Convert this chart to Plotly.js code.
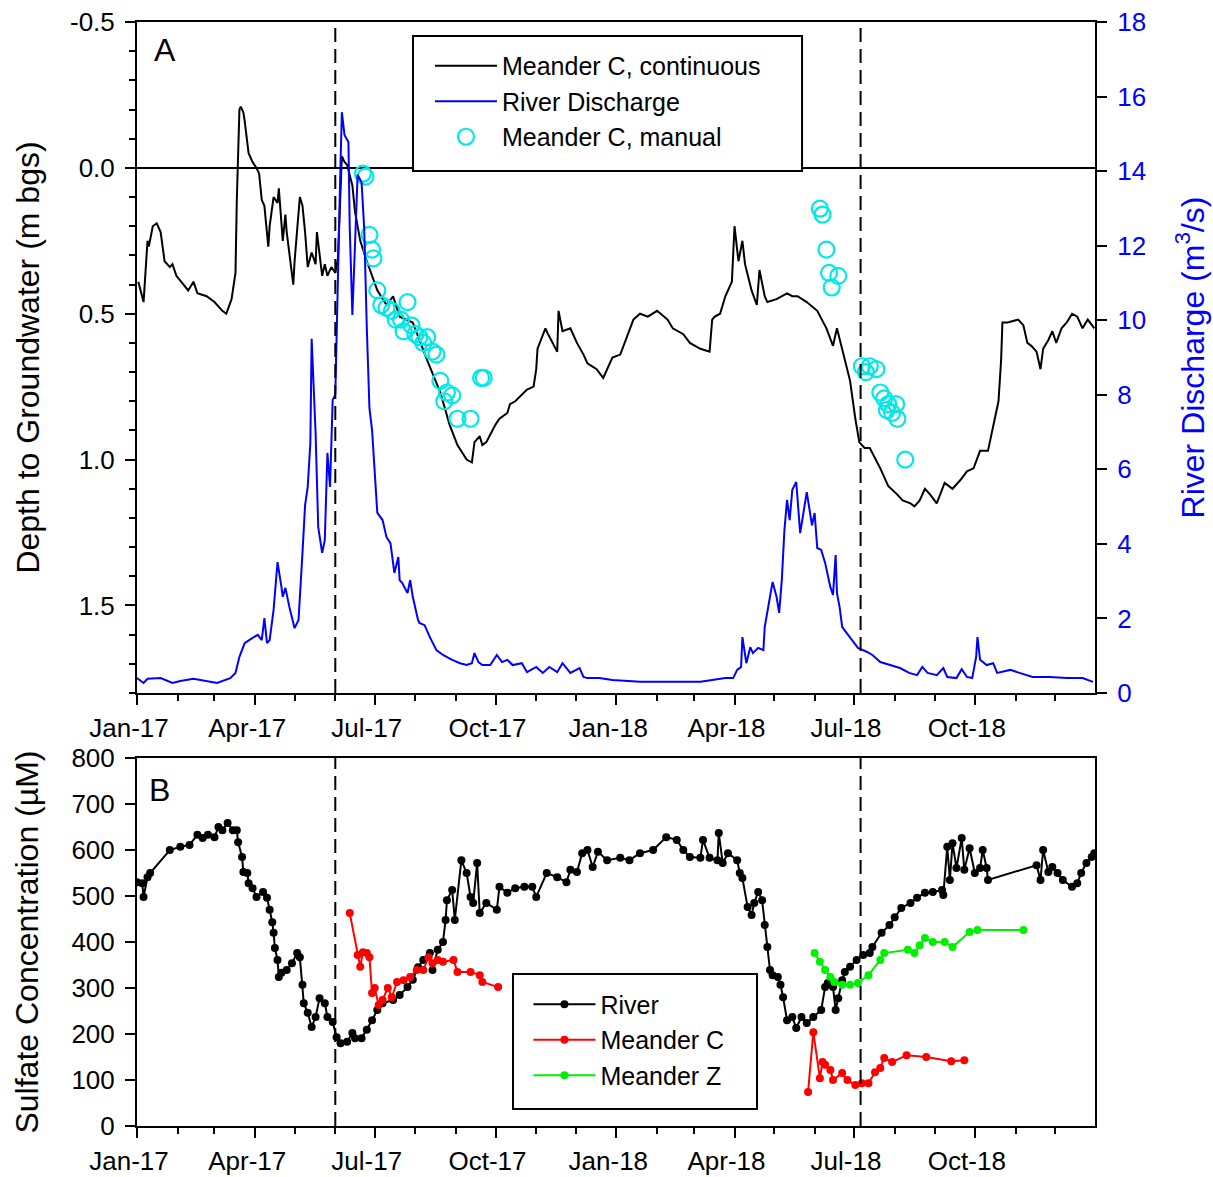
<!DOCTYPE html>
<html>
<head>
<meta charset="utf-8">
<script src="https://cdn.plot.ly/plotly-3.0.1.min.js"></script>
<style>
  html, body { margin: 0; padding: 0; background: #fff; }
  #chart { width: 1213px; height: 1177px; }
</style>
</head>
<body>
<div id="chart"></div>
<script>
// ---- Panel A: depth to groundwater, Meander C continuous logger (m below ground surface)
const gwDates = ['2017-01-02','2017-01-06','2017-01-09','2017-01-10','2017-01-13','2017-01-16','2017-01-19','2017-01-22','2017-01-26','2017-01-28','2017-01-31','2017-02-09','2017-02-13','2017-02-16','2017-02-23','2017-03-01','2017-03-07','2017-03-10','2017-03-14','2017-03-17','2017-03-18','2017-03-20','2017-03-21','2017-03-23','2017-03-24','2017-03-27','2017-03-30','2017-04-02','2017-04-04','2017-04-06','2017-04-08','2017-04-11','2017-04-12','2017-04-15','2017-04-18','2017-04-19','2017-04-22','2017-04-24','2017-04-25','2017-04-28','2017-04-30','2017-05-01','2017-05-04','2017-05-05','2017-05-07','2017-05-09','2017-05-11','2017-05-14','2017-05-17','2017-05-18','2017-05-22','2017-05-24','2017-05-26','2017-05-29','2017-06-01','2017-06-03','2017-06-06','2017-06-08','2017-06-10','2017-06-14','2017-06-16','2017-06-20','2017-06-25','2017-07-03','2017-07-10','2017-07-15','2017-07-20','2017-07-30','2017-08-10','2017-08-20','2017-08-27','2017-09-02','2017-09-09','2017-09-13','2017-09-15','2017-09-19','2017-09-21','2017-09-24','2017-10-01','2017-10-04','2017-10-10','2017-10-12','2017-10-16','2017-10-25','2017-10-30','2017-11-01','2017-11-02','2017-11-08','2017-11-10','2017-11-17','2017-11-18','2017-11-21','2017-11-27','2017-12-02','2017-12-07','2017-12-10','2017-12-17','2017-12-22','2017-12-29','2018-01-04','2018-01-14','2018-01-19','2018-01-25','2018-02-01','2018-02-09','2018-02-13','2018-02-21','2018-02-26','2018-03-06','2018-03-13','2018-03-15','2018-03-17','2018-03-21','2018-03-25','2018-03-30','2018-04-01','2018-04-04','2018-04-07','2018-04-09','2018-04-14','2018-04-18','2018-04-20','2018-04-24','2018-04-26','2018-05-03','2018-05-11','2018-05-15','2018-05-19','2018-05-26','2018-06-03','2018-06-10','2018-06-15','2018-06-18','2018-06-23','2018-06-28','2018-07-02','2018-07-05','2018-07-09','2018-07-13','2018-07-21','2018-07-27','2018-08-03','2018-08-07','2018-08-13','2018-08-16','2018-08-20','2018-08-24','2018-08-28','2018-09-02','2018-09-08','2018-09-14','2018-09-20','2018-09-25','2018-09-30','2018-10-05','2018-10-11','2018-10-15','2018-10-19','2018-10-21','2018-10-22','2018-10-26','2018-11-03','2018-11-07','2018-11-10','2018-11-13','2018-11-17','2018-11-20','2018-11-22','2018-11-26','2018-11-29','2018-12-02','2018-12-06','2018-12-10','2018-12-14','2018-12-18','2018-12-22','2018-12-26','2018-12-31'];
const gwDepth = [0.39,0.46,0.25,0.27,0.20,0.19,0.22,0.32,0.34,0.33,0.37,0.42,0.39,0.43,0.44,0.46,0.49,0.50,0.45,0.36,0.11,-0.20,-0.21,-0.19,-0.16,-0.05,-0.02,0.00,0.02,0.11,0.13,0.27,0.20,0.10,0.12,0.07,0.25,0.16,0.22,0.34,0.40,0.32,0.13,0.10,0.13,0.22,0.34,0.29,0.33,0.22,0.37,0.33,0.37,0.34,0.36,0.31,-0.04,-0.02,-0.01,0.06,0.15,0.25,0.32,0.42,0.47,0.44,0.51,0.53,0.66,0.77,0.88,0.95,1.00,1.01,0.94,0.92,0.95,0.94,0.88,0.86,0.84,0.81,0.80,0.76,0.75,0.69,0.62,0.55,0.57,0.63,0.49,0.56,0.55,0.60,0.64,0.67,0.69,0.72,0.65,0.64,0.52,0.50,0.51,0.49,0.52,0.55,0.57,0.60,0.62,0.63,0.52,0.51,0.50,0.44,0.39,0.20,0.32,0.25,0.33,0.42,0.47,0.35,0.44,0.46,0.45,0.43,0.44,0.44,0.46,0.49,0.55,0.61,0.55,0.64,0.73,0.86,0.94,0.96,0.96,1.03,1.09,1.12,1.14,1.15,1.16,1.14,1.10,1.12,1.15,1.08,1.10,1.07,1.04,1.03,0.97,0.97,0.89,0.80,0.66,0.53,0.53,0.52,0.54,0.60,0.61,0.63,0.69,0.62,0.59,0.56,0.60,0.55,0.53,0.50,0.51,0.55,0.52,0.55];

// ---- Panel A: river discharge (m3/s)
const qDates = ['2017-01-01','2017-01-06','2017-01-09','2017-01-19','2017-01-28','2017-02-03','2017-02-13','2017-02-23','2017-03-03','2017-03-13','2017-03-17','2017-03-20','2017-03-24','2017-03-30','2017-04-03','2017-04-06','2017-04-08','2017-04-10','2017-04-12','2017-04-15','2017-04-18','2017-04-21','2017-04-22','2017-04-24','2017-04-27','2017-05-01','2017-05-04','2017-05-07','2017-05-09','2017-05-11','2017-05-13','2017-05-14','2017-05-17','2017-05-19','2017-05-22','2017-05-24','2017-05-26','2017-05-28','2017-05-29','2017-05-30','2017-06-01','2017-06-03','2017-06-05','2017-06-06','2017-06-08','2017-06-11','2017-06-12','2017-06-14','2017-06-17','2017-06-18','2017-06-21','2017-06-23','2017-06-25','2017-06-27','2017-06-29','2017-07-01','2017-07-03','2017-07-07','2017-07-10','2017-07-13','2017-07-16','2017-07-19','2017-07-20','2017-07-22','2017-07-26','2017-07-28','2017-07-30','2017-08-03','2017-08-04','2017-08-08','2017-08-12','2017-08-17','2017-08-22','2017-08-29','2017-09-04','2017-09-09','2017-09-13','2017-09-15','2017-09-18','2017-09-21','2017-09-27','2017-10-02','2017-10-06','2017-10-10','2017-10-14','2017-10-21','2017-10-25','2017-11-01','2017-11-06','2017-11-11','2017-11-17','2017-11-21','2017-11-27','2017-12-04','2017-12-07','2017-12-10','2017-12-19','2017-12-29','2018-01-09','2018-01-19','2018-02-08','2018-02-24','2018-03-06','2018-03-15','2018-03-25','2018-03-31','2018-04-03','2018-04-06','2018-04-07','2018-04-10','2018-04-13','2018-04-15','2018-04-19','2018-04-23','2018-04-24','2018-04-28','2018-04-30','2018-05-03','2018-05-05','2018-05-07','2018-05-09','2018-05-11','2018-05-13','2018-05-15','2018-05-18','2018-05-21','2018-05-23','2018-05-26','2018-05-30','2018-06-01','2018-06-03','2018-06-06','2018-06-09','2018-06-13','2018-06-15','2018-06-17','2018-06-18','2018-06-20','2018-06-22','2018-06-28','2018-07-04','2018-07-11','2018-07-15','2018-07-21','2018-07-28','2018-08-05','2018-08-12','2018-08-18','2018-08-22','2018-08-26','2018-09-02','2018-09-07','2018-09-10','2018-09-17','2018-09-21','2018-09-25','2018-09-29','2018-10-02','2018-10-03','2018-10-05','2018-10-10','2018-10-15','2018-10-18','2018-10-28','2018-11-04','2018-11-14','2018-11-27','2018-12-10','2018-12-22','2018-12-30'];
const qFlow = [0.40,0.27,0.38,0.40,0.27,0.32,0.38,0.32,0.27,0.40,0.54,0.97,1.34,1.48,1.56,1.42,2.01,1.34,1.42,2.23,3.51,2.84,2.58,2.82,2.31,1.74,1.96,3.76,5.04,5.53,6.71,9.50,6.97,4.45,3.76,4.10,6.44,5.53,6.60,7.86,8.00,11.56,14.24,15.58,14.97,14.78,12.47,10.14,12.90,13.90,13.70,12.47,9.79,7.64,7.05,5.90,4.83,4.64,4.18,4.02,3.22,3.65,3.03,2.95,2.68,3.03,2.58,1.96,1.88,1.82,1.50,1.15,1.02,0.89,0.80,0.75,0.80,1.07,0.83,0.75,0.75,1.02,0.83,0.89,0.75,0.80,0.56,0.70,0.54,0.70,0.56,0.80,0.54,0.67,0.43,0.40,0.40,0.35,0.32,0.30,0.30,0.30,0.30,0.35,0.40,0.40,0.62,0.70,1.50,0.80,1.23,1.07,1.21,1.15,1.77,2.58,2.98,2.58,2.15,3.03,4.37,5.18,4.64,5.45,5.66,4.29,4.72,5.39,4.50,4.83,3.89,3.84,3.49,2.84,2.63,3.70,2.68,2.31,1.77,1.48,1.21,1.10,1.02,0.83,0.75,0.67,0.54,0.48,0.70,0.54,0.48,0.67,0.43,0.40,0.64,0.43,0.40,0.97,1.50,0.89,0.75,0.80,0.54,0.62,0.54,0.43,0.43,0.40,0.40,0.30];

// ---- Panel A: manual depth readings, Meander C (m bgs)
const manualDates = ['2017-06-22','2017-06-24','2017-06-27','2017-06-29','2017-06-30','2017-07-03','2017-07-06','2017-07-10','2017-07-14','2017-07-17','2017-07-21','2017-07-26','2017-07-23','2017-07-29','2017-08-01','2017-08-04','2017-08-07','2017-08-10','2017-08-14','2017-08-17','2017-08-20','2017-08-25','2017-08-29','2017-08-23','2017-09-02','2017-09-12','2017-09-20','2017-09-22','2018-06-05','2018-06-07','2018-06-10','2018-06-12','2018-06-19','2018-06-14','2018-07-07','2018-07-10','2018-07-13','2018-07-18','2018-07-21','2018-07-24','2018-07-27','2018-07-26','2018-07-30','2018-08-02','2018-08-03','2018-08-09'];
const manualDepth = [0.02,0.03,0.23,0.28,0.31,0.42,0.47,0.48,0.49,0.52,0.52,0.46,0.56,0.54,0.57,0.58,0.60,0.58,0.63,0.64,0.73,0.77,0.78,0.80,0.86,0.86,0.72,0.72,0.14,0.16,0.28,0.36,0.37,0.41,0.68,0.70,0.68,0.69,0.77,0.79,0.81,0.83,0.84,0.81,0.86,1.00];

// ---- Panel B: sulfate concentration (µM)
const riverDates = ['2017-01-01','2017-01-05','2017-01-06','2017-01-09','2017-01-11','2017-01-26','2017-02-03','2017-02-10','2017-02-16','2017-02-20','2017-02-24','2017-03-01','2017-03-04','2017-03-07','2017-03-11','2017-03-15','2017-03-18','2017-03-19','2017-03-22','2017-03-23','2017-03-26','2017-03-27','2017-03-30','2017-04-02','2017-04-07','2017-04-10','2017-04-12','2017-04-14','2017-04-15','2017-04-16','2017-04-18','2017-04-19','2017-04-21','2017-04-25','2017-04-29','2017-05-03','2017-05-05','2017-05-07','2017-05-08','2017-05-11','2017-05-14','2017-05-17','2017-05-20','2017-05-24','2017-05-26','2017-05-30','2017-06-02','2017-06-05','2017-06-10','2017-06-14','2017-06-16','2017-06-21','2017-06-25','2017-06-29','2017-07-03','2017-07-07','2017-07-15','2017-07-20','2017-07-26','2017-07-30','2017-08-03','2017-08-07','2017-08-12','2017-08-14','2017-08-18','2017-08-22','2017-08-24','2017-08-25','2017-08-29','2017-08-31','2017-09-05','2017-09-09','2017-09-12','2017-09-14','2017-09-17','2017-09-19','2017-09-24','2017-10-02','2017-10-04','2017-10-10','2017-10-16','2017-10-23','2017-10-29','2017-11-01','2017-11-09','2017-11-17','2017-11-24','2017-11-27','2017-12-02','2017-12-06','2017-12-10','2017-12-14','2017-12-18','2017-12-25','2018-01-04','2018-01-11','2018-01-19','2018-01-29','2018-02-08','2018-02-16','2018-02-21','2018-02-26','2018-03-06','2018-03-08','2018-03-13','2018-03-19','2018-03-20','2018-03-23','2018-03-27','2018-04-03','2018-04-05','2018-04-07','2018-04-11','2018-04-14','2018-04-16','2018-04-19','2018-04-22','2018-04-24','2018-04-26','2018-04-28','2018-04-30','2018-05-04','2018-05-06','2018-05-08','2018-05-11','2018-05-15','2018-05-18','2018-05-22','2018-05-26','2018-05-31','2018-06-06','2018-06-09','2018-06-11','2018-06-15','2018-06-17','2018-06-19','2018-06-22','2018-06-24','2018-06-28','2018-07-03','2018-07-08','2018-07-13','2018-07-15','2018-07-22','2018-07-28','2018-08-01','2018-08-06','2018-08-13','2018-08-18','2018-08-24','2018-08-30','2018-09-06','2018-09-07','2018-09-10','2018-09-12','2018-09-14','2018-09-17','2018-09-21','2018-09-23','2018-09-27','2018-10-01','2018-10-05','2018-10-07','2018-10-10','2018-10-11','2018-11-17','2018-11-20','2018-11-22','2018-11-26','2018-11-29','2018-12-03','2018-12-07','2018-12-14','2018-12-18','2018-12-21','2018-12-25','2018-12-29','2018-12-31'];
const riverSO4 = [530,528,498,541,550,600,607,611,633,626,633,628,650,643,659,643,643,617,585,552,550,528,517,498,509,496,470,443,420,387,361,324,333,339,354,376,367,307,267,246,215,237,278,267,237,226,193,180,183,202,191,191,209,230,252,267,274,285,302,318,345,361,376,339,383,400,448,491,513,448,578,550,498,485,572,463,485,470,520,507,517,520,520,498,550,541,530,557,552,593,600,563,596,578,583,578,593,600,628,622,600,585,583,622,583,578,637,572,593,578,550,539,476,459,485,509,491,437,389,339,328,324,307,280,230,237,213,237,224,237,252,302,311,302,252,278,317,335,346,361,372,376,389,420,437,454,474,485,496,507,509,513,502,607,535,615,561,626,557,604,550,561,600,561,535,567,535,600,552,563,550,535,520,528,550,572,585,593];

const meanderCDates = ['2017-06-12','2017-06-18','2017-06-20','2017-06-22','2017-06-25','2017-06-27','2017-06-29','2017-07-01','2017-07-04','2017-07-07','2017-07-11','2017-07-14','2017-07-18','2017-07-23','2017-07-28','2017-08-02','2017-08-07','2017-08-11','2017-08-14','2017-08-18','2017-08-22','2017-08-30','2017-09-02','2017-09-12','2017-09-19','2017-09-21','2017-10-03',null,'2018-05-27','2018-05-31','2018-06-05','2018-06-07','2018-06-09','2018-06-13','2018-06-15','2018-06-22','2018-06-26','2018-07-02','2018-07-07','2018-07-12','2018-07-17','2018-07-21','2018-07-24','2018-07-30','2018-08-10','2018-08-25','2018-09-13','2018-09-23'];
const meanderCSO4 = [463,372,346,378,376,367,289,300,263,274,300,280,313,317,324,339,339,367,354,361,357,361,335,335,328,313,302,null,74,204,104,139,133,122,100,115,100,89,93,93,117,126,148,139,154,150,141,143];

const meanderZDates = ['2018-06-01','2018-06-05','2018-06-09','2018-06-13','2018-06-16','2018-06-22','2018-06-28','2018-07-04','2018-07-12','2018-07-21','2018-07-24','2018-08-11','2018-08-16','2018-08-20','2018-08-24','2018-08-30','2018-09-08','2018-09-14','2018-09-27','2018-10-03','2018-11-07'];
const meanderZSO4 = [376,357,339,324,313,307,307,311,328,361,376,383,376,393,409,400,400,389,422,426,426];

// ---- Hydrologic transitions marked in both panels
const transitionDates = ['2017-06-01', '2018-07-06'];

// ---- Axis tick labels
const depthTickVals = [-0.5, 0, 0.5, 1.0, 1.5];
const depthTickText = ['-0.5', '0.0', '0.5', '1.0', '1.5'];

const FONT = 'Arial, "Liberation Sans", sans-serif';
const BLACK = '#000000';
const X_RANGE = ['2017-01-01', '2018-12-31 12:00'];
const TICK_SIZE = 26;
const TITLE_SIZE = 32;

function dateAxis(anchor) {
  return {
    type: 'date', anchor: anchor, domain: [0, 1], range: X_RANGE,
    tick0: '2017-01-01', dtick: 'M3', tickformat: '%b-%y',
    ticks: 'outside', ticklen: 10, tickwidth: 2, tickcolor: BLACK,
    minor: { dtick: 'M1', tick0: '2017-01-01', ticks: 'outside', ticklen: 6, tickwidth: 2, tickcolor: BLACK, showgrid: false },
    showline: true, linewidth: 2, linecolor: BLACK, mirror: true,
    showgrid: false, zeroline: false, ticklabelstandoff: 1, ticklabelshift: -8,
    tickfont: { size: TICK_SIZE, color: BLACK }
  };
}

const traces = [
  { x: gwDates, y: gwDepth, xaxis: 'x', yaxis: 'y', type: 'scatter', mode: 'lines',
    name: 'Meander C, continuous', line: { color: BLACK, width: 2 }, legend: 'legend' },
  { x: qDates, y: qFlow, xaxis: 'x', yaxis: 'y2', type: 'scatter', mode: 'lines',
    name: 'River Discharge', line: { color: '#0000FF', width: 2 }, legend: 'legend' },
  { x: manualDates, y: manualDepth, xaxis: 'x', yaxis: 'y', type: 'scatter', mode: 'markers',
    name: 'Meander C, manual', marker: { symbol: 'circle-open', size: 16, color: '#00E8E8', line: { width: 2.2, color: '#00E8E8' } },
    legend: 'legend' },
  { x: riverDates, y: riverSO4, xaxis: 'x2', yaxis: 'y3', type: 'scatter', mode: 'lines+markers',
    name: 'River', line: { color: BLACK, width: 2 }, marker: { color: BLACK, size: 8 }, legend: 'legend2' },
  { x: meanderCDates, y: meanderCSO4, xaxis: 'x2', yaxis: 'y3', type: 'scatter', mode: 'lines+markers',
    name: 'Meander C', line: { color: '#FF0000', width: 2 }, marker: { color: '#FF0000', size: 8 },
    connectgaps: false, legend: 'legend2' },
  { x: meanderZDates, y: meanderZSO4, xaxis: 'x2', yaxis: 'y3', type: 'scatter', mode: 'lines+markers',
    name: 'Meander Z', line: { color: '#00F000', width: 2 }, marker: { color: '#00F000', size: 8 }, legend: 'legend2' }
];

const shapes = [];
transitionDates.forEach(function (d) {
  shapes.push({ type: 'line', xref: 'x', yref: 'y domain', x0: d, x1: d, y0: 0, y1: 1,
    line: { color: BLACK, width: 2, dash: '14px,7px' } });
  shapes.push({ type: 'line', xref: 'x2', yref: 'y3 domain', x0: d, x1: d, y0: 0, y1: 1,
    line: { color: BLACK, width: 2, dash: '14px,7px' } });
});
// Frames around the two legends
shapes.push({ type: 'rect', xref: 'paper', yref: 'paper', x0: 0.2881, x1: 0.6942, y0: 0.8650, y1: 0.9873,
  line: { color: BLACK, width: 2 }, fillcolor: '#ffffff', layer: 'above' });
shapes.push({ type: 'rect', xref: 'paper', yref: 'paper', x0: 0.3925, x1: 0.6472, y0: 0.0154, y1: 0.1377,
  line: { color: BLACK, width: 2 }, fillcolor: '#ffffff', layer: 'above' });

const legendStyle = {
  bgcolor: 'rgba(0,0,0,0)', borderwidth: 0,
  font: { family: FONT, size: 25, color: BLACK },
  xanchor: 'left', yanchor: 'top', itemwidth: 62, tracegroupgap: 0
};

const layout = {
  width: 1213, height: 1177,
  margin: { l: 137, r: 118, t: 22, b: 51, pad: 0 },
  paper_bgcolor: '#ffffff', plot_bgcolor: '#ffffff',
  font: { family: FONT, size: TICK_SIZE, color: BLACK },
  showlegend: true,
  legend: Object.assign({}, legendStyle, { x: 0.3058, y: 0.9810 }),
  legend2: Object.assign({}, legendStyle, { x: 0.4086, y: 0.1310 }),
  xaxis: dateAxis('y'),
  xaxis2: dateAxis('y3'),
  yaxis: {
    domain: [0.3922, 1], anchor: 'x', range: [1.8, -0.5],
    tickmode: 'array', tickvals: depthTickVals, ticktext: depthTickText,
    ticks: 'outside', ticklen: 10, tickwidth: 2, tickcolor: BLACK,
    minor: { tick0: -0.5, dtick: 0.1, ticks: 'outside', ticklen: 6, tickwidth: 2, tickcolor: BLACK, showgrid: false },
    showline: true, linewidth: 2, linecolor: BLACK,
    zeroline: true, zerolinewidth: 2, zerolinecolor: BLACK, showgrid: false,
    ticklabelstandoff: 5, tickfont: { size: TICK_SIZE, color: BLACK },
    title: { text: 'Depth to Groundwater (m bgs)', font: { size: TITLE_SIZE, color: BLACK }, standoff: 21 },
    automargin: false
  },
  yaxis2: {
    overlaying: 'y', side: 'right', anchor: 'x', range: [0, 18], dtick: 2, tick0: 0,
    ticks: 'outside', ticklen: 10, tickwidth: 2, tickcolor: BLACK,
    showline: true, linewidth: 2, linecolor: BLACK, zeroline: false, showgrid: false,
    ticklabelstandoff: 5, tickfont: { size: TICK_SIZE, color: '#0000FF' },
    title: { text: 'River Discharge (m<sup>3</sup>/s)', font: { size: TITLE_SIZE, color: '#0000FF' }, standoff: 36 },
    automargin: false
  },
  yaxis3: {
    domain: [0, 0.3333], anchor: 'x2', range: [0, 800], dtick: 100, tick0: 0,
    ticks: 'outside', ticklen: 10, tickwidth: 2, tickcolor: BLACK,
    showline: true, linewidth: 2, linecolor: BLACK, mirror: true,
    zeroline: false, showgrid: false,
    ticklabelstandoff: 5, tickfont: { size: TICK_SIZE, color: BLACK },
    title: { text: 'Sulfate Concentration (µM)', font: { size: TITLE_SIZE, color: BLACK }, standoff: 23 },
    automargin: false
  },
  shapes: shapes,
  annotations: [
    { text: 'A', xref: 'paper', yref: 'paper', x: 0.029, y: 0.9746, showarrow: false,
      xanchor: 'center', yanchor: 'middle', font: { size: 32, color: BLACK } },
    { text: 'B', xref: 'paper', yref: 'paper', x: 0.023, y: 0.3043, showarrow: false,
      xanchor: 'center', yanchor: 'middle', font: { size: 32, color: BLACK } }
  ]
};

Plotly.newPlot('chart', traces, layout, { staticPlot: true, displayModeBar: false });
</script>
</body>
</html>
